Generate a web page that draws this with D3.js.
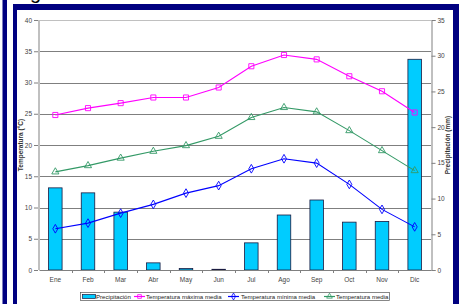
<!DOCTYPE html>
<html><head><meta charset="utf-8">
<script src="https://cdn.jsdelivr.net/npm/d3@7"></script>
<style>body{margin:0;background:#fff}svg{display:block;font-family:"Liberation Sans",Arial,sans-serif}</style>
</head><body>
<script>
const months = ["Ene","Feb","Mar","Abr","May","Jun","Jul","Ago","Sep","Oct","Nov","Dic"];
const precipitacion = [11.5,10.8,8.1,1.0,0.2,0.1,3.8,7.7,9.8,6.7,6.8,29.5];
const tempMax = [24.8,25.9,26.7,27.6,27.6,29.2,32.6,34.4,33.7,31.0,28.6,25.2];
const tempMin = [6.6,7.5,9.1,10.5,12.3,13.5,16.2,17.8,17.1,13.7,9.7,6.9];
const tempMedia = [15.7,16.7,17.9,19.0,19.9,21.4,24.4,26.0,25.3,22.3,19.1,15.9];
const leftTicks = [0,5,10,15,20,25,30,35,40];
const rightTicks = [0,5,10,15,20,25,30,35];
const legendLabels = ["Precipitación","Temperatura máxima media","Temperatura mínima media","Temperatura media"];

const W=459,H=304;
const svg=d3.select("body").append("svg").attr("width",W).attr("height",H);
const navy="#000080";
// frame
svg.append("rect").attr("x",2.5).attr("y",0).attr("width",4.5).attr("height",H).attr("fill",navy);
svg.append("rect").attr("x",13).attr("y",4).attr("width",446).attr("height",6).attr("fill",navy);
svg.append("rect").attr("x",13).attr("y",4).attr("width",4).attr("height",H).attr("fill",navy);
svg.append("rect").attr("x",453).attr("y",4).attr("width",6).attr("height",H).attr("fill",navy);
svg.append("text").attr("x",30).attr("y",-1).attr("font-size",20).attr("fill","#000").text("g");

const L=39,R=431,T=20,B=270;
const x=d3.scaleBand().domain(months).range([L,R]);
const yL=d3.scaleLinear().domain([0,40]).range([B,T]);
const yR=d3.scaleLinear().domain([0,35]).range([B,T]);

// gridlines
svg.append("g").selectAll("line").data(leftTicks.filter(d=>d>0&&d<40)).join("line")
  .attr("x1",L).attr("x2",R).attr("y1",d=>Math.round(yL(d))+0.5).attr("y2",d=>Math.round(yL(d))+0.5)
  .attr("stroke","#7f7f7f").attr("stroke-width",1);
svg.append("line").attr("x1",L).attr("x2",R).attr("y1",T+0.5).attr("y2",T+0.5).attr("stroke","#c0c0c0");
svg.append("line").attr("x1",L).attr("x2",L).attr("y1",T).attr("y2",B).attr("stroke","#c0c0c0").attr("stroke-width",2);

// bars
const bw=13.5;
svg.append("g").selectAll("rect").data(precipitacion).join("rect")
  .attr("x",(d,i)=>x(months[i])+x.bandwidth()/2-bw/2)
  .attr("y",d=>yR(d)).attr("width",bw).attr("height",d=>B-yR(d))
  .attr("fill","#00ccff").attr("stroke","#1a1a40").attr("stroke-width",0.8);

// axes
const axL=d3.axisLeft(yL).tickValues(leftTicks).tickSize(4).tickPadding(2);
const gL=svg.append("g").attr("transform",`translate(${L-1},0)`).call(axL);
gL.select(".domain").remove();
const axR=d3.axisRight(yR).tickValues(rightTicks).tickSize(4).tickPadding(2);
const gR=svg.append("g").attr("transform",`translate(${R+0.5},0)`).call(axR);
gR.select(".domain").attr("stroke","#808080");
const axB=d3.axisBottom(x).tickSize(0).tickPadding(7);
const gB=svg.append("g").attr("transform",`translate(0,${B})`).call(axB);
gB.select(".domain").attr("stroke","#808080");
svg.append("g").selectAll("line").data(months.slice(1)).join("line")
  .attr("x1",d=>Math.round(x(d))+0.5).attr("x2",d=>Math.round(x(d))+0.5).attr("y1",B).attr("y2",B+3).attr("stroke","#808080");
[gL,gR,gB].forEach(g=>{g.selectAll(".tick line").attr("stroke","#808080");
  g.selectAll("text").attr("font-size",6.5).attr("fill","#444").attr("font-family","Liberation Sans, Arial, sans-serif");});

// axis titles
svg.append("text").attr("transform","translate(23,145) rotate(-90)").attr("text-anchor","middle")
  .attr("font-size",6.5).attr("font-weight","bold").attr("fill","#333").text("Temperatura (°C)");
svg.append("text").attr("transform","translate(450,145) rotate(-90)").attr("text-anchor","middle")
  .attr("font-size",6.5).attr("font-weight","bold").attr("fill","#333").text("Precipitación (mm)");

// lines
const cx=i=>x(months[i])+x.bandwidth()/2;
function series(data,color,shape){
  const line=d3.line().x((d,i)=>cx(i)).y(d=>yL(d));
  svg.append("path").datum(data).attr("d",line).attr("fill","none").attr("stroke",color).attr("stroke-width",1.1);
  const sym=d3.symbol().type(shape).size(shape===d3.symbolSquare?26:22);
  svg.append("g").selectAll("path").data(data).join("path")
    .attr("transform",(d,i)=>`translate(${cx(i)},${yL(d)})`).attr("d",sym)
    .attr("fill","none").attr("stroke",color).attr("stroke-width",0.9);
}
series(tempMax,"#ff00ff",d3.symbolSquare);
series(tempMin,"#0000ff",d3.symbolDiamond);
series(tempMedia,"#339966",d3.symbolTriangle);

// legend
const lg=svg.append("g");
lg.append("rect").attr("x",80.5).attr("y",292.5).attr("width",309).attr("height",8).attr("fill","#fff").attr("stroke","#555").attr("stroke-width",0.7);
lg.append("rect").attr("x",82.5).attr("y",294.5).attr("width",13).attr("height",4).attr("fill","#00ccff").attr("stroke","#1a1a40").attr("stroke-width",0.7);
const items=[{sx:134,tx:146,c:"#ff00ff",s:d3.symbolSquare},{sx:228,tx:241,c:"#0000ff",s:d3.symbolDiamond},{sx:324,tx:336,c:"#339966",s:d3.symbolTriangle}];
const lfs=6.1;
lg.append("text").attr("x",96).attr("y",298.8).attr("font-size",lfs).attr("fill","#222").text(legendLabels[0]);
items.forEach((it,k)=>{
  lg.append("line").attr("x1",it.sx).attr("x2",it.sx+11).attr("y1",296.5).attr("y2",296.5).attr("stroke",it.c).attr("stroke-width",1.2);
  lg.append("path").attr("transform",`translate(${it.sx+5.5},296.5)`).attr("d",d3.symbol().type(it.s).size(14)).attr("fill","none").attr("stroke",it.c).attr("stroke-width",0.8);
  lg.append("text").attr("x",it.tx).attr("y",298.8).attr("font-size",lfs).attr("fill","#222").text(legendLabels[k+1]);
});
</script>
</body></html>
